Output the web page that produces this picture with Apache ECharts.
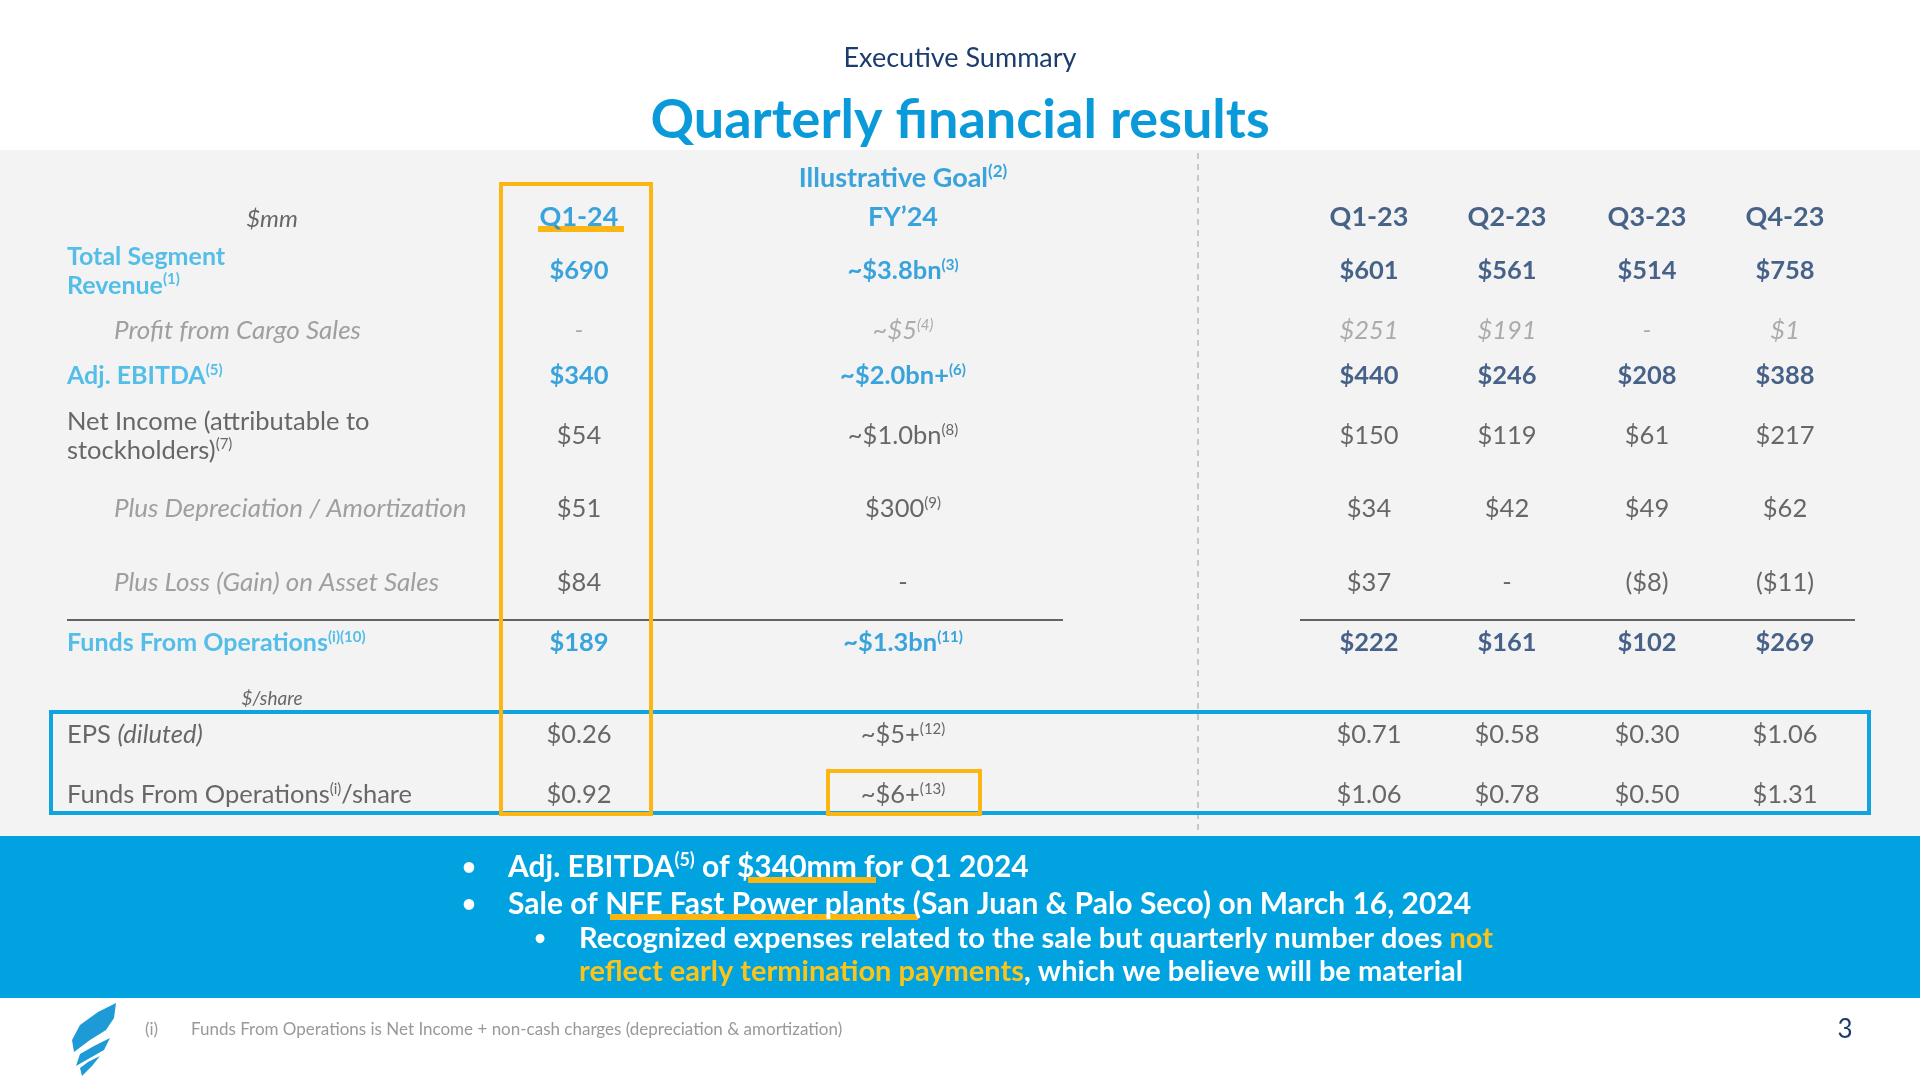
<!DOCTYPE html>
<html><head><meta charset="utf-8">
<script src="https://cdn.jsdelivr.net/npm/echarts@6/dist/echarts.min.js"></script>
<style>html,body{margin:0;padding:0;background:#fff}#c{width:1920px;height:1080px}</style>
</head><body><div id="c"></div>
<script>
// ---- data ----
const columns = ['Q1-24', 'FY\u201924', 'Q1-23', 'Q2-23', 'Q3-23', 'Q4-23'];
const rowLabels = ['Total Segment\nRevenue{s|(1)}', 'Profit from Cargo Sales', 'Adj. EBITDA{s|(5)}',
  'Net Income (attributable to\nstockholders){s|(7)}', 'Plus Depreciation / Amortization',
  'Plus Loss (Gain) on Asset Sales', 'Funds From Operations{s|(i)(10)}', 'EPS {i|(diluted)}',
  'Funds From Operations{s|(i)}/share'];
const rowKinds = ['key', 'cargo', 'key', 'norm', 'sub', 'sub', 'key', 'norm', 'norm'];
const q124 = ['$690', '-', '$340', '$54', '$51', '$84', '$189', '$0.26', '$0.92'];
const fy24 = ['~$3.8bn{s|(3)}', '~$5{s|(4)}', '~$2.0bn+{s|(6)}', '~$1.0bn{s|(8)}', '$300{s|(9)}', '-', '~$1.3bn{s|(11)}', '~$5+{s|(12)}', '~$6+{s|(13)}'];
const q123 = ['$601', '$251', '$440', '$150', '$34', '$37', '$222', '$0.71', '$1.06'];
const q223 = ['$561', '$191', '$246', '$119', '$42', '-', '$161', '$0.58', '$0.78'];
const q323 = ['$514', '-', '$208', '$61', '$49', '($8)', '$102', '$0.30', '$0.50'];
const q423 = ['$758', '$1', '$388', '$217', '$62', '($11)', '$269', '$1.06', '$1.31'];
// ---- layout ----
const colX = [579, 903, 1369, 1507, 1647, 1785];
const rowY = [271, 331, 376, 436, 509, 583, 643, 735, 795];
const headerY = 217;

const NAVY = '#1b3d6d', BLUE = '#0a8fd6', LBLUE = '#2cb0e6', GREY = '#8a8a8a', DARK = '#444';
const cols = [q124, fy24, q123, q223, q323, q423];
const data = [];
rowLabels.forEach((lab, r) => {
  const k = rowKinds[r];
  const st = k === 'key' ? {color: LBLUE, fontWeight: 'bold', fontSize: 25}
           : (k === 'sub' || k === 'cargo') ? {color: GREY, fontStyle: 'italic', fontSize: 26, fontWeight: 'normal'}
           : {color: DARK, fontSize: 25.5, fontWeight: 'normal', fontStyle: 'normal'};
  data.push({value: [(k === 'sub' || k === 'cargo') ? 114 : 67, rowY[r]], label: Object.assign({formatter: lab, align: 'left', lineHeight: 29,
    rich: {s: {fontSize: 15, padding: [0, 0, 12, 0], color: st.color, fontWeight: st.fontWeight, fontStyle: st.fontStyle || 'normal'},
           i: {fontStyle: 'italic', fontSize: 25.5, color: st.color}}}, st)});
  cols.forEach((col, c) => {
    const color = k === 'key' ? (c < 2 ? BLUE : NAVY) : k === 'cargo' ? '#999' : DARK;
    const s = {color, fontSize: 25.5, fontWeight: k === 'key' ? 'bold' : 'normal', fontStyle: k === 'cargo' ? 'italic' : 'normal'};
    data.push({value: [colX[c], rowY[r]], label: Object.assign({formatter: col[r], align: 'center',
      rich: {s: {fontSize: 15, padding: [0, 0, 12, 0], color, fontWeight: s.fontWeight, fontStyle: s.fontStyle}}}, s)});
  });
});
columns.forEach((h, c) => {
  data.push({value: [colX[c], headerY], label: {formatter: h, align: 'center', fontSize: 27, fontWeight: 'bold', color: c < 2 ? BLUE : NAVY}});
});
data.push({value: [903, 178], label: {formatter: 'Illustrative Goal{s|(2)}', align: 'center', fontSize: 27, fontWeight: 'bold', color: BLUE, rich: {s: {fontSize: 17, padding: [0, 0, 12, 0], color: BLUE, fontWeight: 'bold'}}}});
data.push({value: [272, 219], label: {formatter: '$mm', align: 'center', fontSize: 24, fontStyle: 'italic', color: DARK}});
data.push({value: [272, 699], label: {formatter: '$/share', align: 'center', fontSize: 19, fontStyle: 'italic', color: DARK}});

const chart = echarts.init(document.getElementById('c'));
const W = {fill: '#fff', fontSize: 30, fontWeight: 'bold', fontFamily: 'Lato'};
const Y = {fill: '#fcc419', fontSize: 29, fontWeight: 'bold', fontFamily: 'Lato'};
chart.setOption({
  textStyle: {fontFamily: 'Lato'},
  animation: false,
  grid: {left: 0, right: 0, top: 0, bottom: 0},
  xAxis: {type: 'value', min: 0, max: 1920, show: false},
  yAxis: {type: 'value', min: 0, max: 1080, inverse: true, show: false},
  graphic: [
    {type: 'rect', z: -10, shape: {x: 0, y: 150, width: 1920, height: 686}, style: {fill: '#f3f3f3'}},
    {type: 'rect', z: -10, shape: {x: 0, y: 836, width: 1920, height: 162}, style: {fill: '#00a3df'}},
    {type: 'line', shape: {x1: 1198, y1: 153, x2: 1198, y2: 833}, style: {stroke: '#bbb', lineWidth: 1.5, lineDash: [6, 5]}},
    {type: 'line', shape: {x1: 67, y1: 620, x2: 1063, y2: 620}, style: {stroke: '#333', lineWidth: 1.5}},
    {type: 'line', shape: {x1: 1300, y1: 620, x2: 1855, y2: 620}, style: {stroke: '#333', lineWidth: 1.5}},
    {type: 'rect', shape: {x: 51, y: 712, width: 1818, height: 101}, style: {fill: null, stroke: '#10a4df', lineWidth: 4}},
    {type: 'rect', shape: {x: 501, y: 184, width: 150, height: 630}, style: {fill: null, stroke: '#fbb613', lineWidth: 4}},
    {type: 'rect', shape: {x: 828, y: 771, width: 152, height: 43}, style: {fill: null, stroke: '#fbb613', lineWidth: 4}},
    {type: 'rect', shape: {x: 538, y: 226, width: 86, height: 6}, style: {fill: '#fbb613'}},
    {type: 'text', x: 960, y: 58, style: {text: 'Executive Summary', fill: NAVY, fontSize: 27, fontFamily: 'Lato', align: 'center', verticalAlign: 'middle'}},
    {type: 'text', x: 960, y: 121, style: {text: 'Quarterly financial results', fill: '#0a9ad9', fontSize: 54, fontWeight: 'bold', fontFamily: 'Lato', align: 'center', verticalAlign: 'middle'}},
    {type: 'rect', shape: {x: 748, y: 877, width: 128, height: 6}, style: {fill: '#fbb613'}},
    {type: 'rect', shape: {x: 610, y: 914, width: 308, height: 6}, style: {fill: '#fbb613'}},
    {type: 'text', x: 469, y: 867, style: Object.assign({text: '\u2022', align: 'center', verticalAlign: 'middle'}, W, {fontSize: 24})},
    {type: 'text', x: 469, y: 904, style: Object.assign({text: '\u2022', align: 'center', verticalAlign: 'middle'}, W, {fontSize: 24})},
    {type: 'text', x: 540, y: 939, style: Object.assign({text: '\u2022', align: 'center', verticalAlign: 'middle'}, W, {fontSize: 20})},
    {type: 'text', x: 508, y: 867, style: Object.assign({text: 'Adj. EBITDA{s|(5)} of $340mm for Q1 2024', verticalAlign: 'middle', rich: {s: {fill: '#fff', fontSize: 18, padding: [0, 0, 14, 0], fontWeight: 'bold', fontFamily: 'Lato'}}}, W)},
    {type: 'text', x: 508, y: 904, style: Object.assign({text: 'Sale of NFE Fast Power plants (San Juan & Palo Seco) on March 16, 2024', verticalAlign: 'middle'}, W)},
    {type: 'text', x: 579, y: 939, style: Object.assign({text: 'Recognized expenses related to the sale but quarterly number does {y|not}', verticalAlign: 'middle', rich: {y: Y}}, W, {fontSize: 29})},
    {type: 'text', x: 579, y: 972, style: Object.assign({text: '{y|reflect early termination payments}, which we believe will be material', verticalAlign: 'middle', rich: {y: Y}}, W, {fontSize: 29})},
    {type: 'text', x: 145, y: 1030, style: {text: '(i)', fill: '#999', fontSize: 17, fontFamily: 'Lato', verticalAlign: 'middle'}},
    {type: 'text', x: 191, y: 1030, style: {text: 'Funds From Operations is Net Income + non-cash charges (depreciation & amortization)', fill: '#999', fontSize: 17, fontFamily: 'Lato', verticalAlign: 'middle'}},
    {type: 'text', x: 1845, y: 1030, style: {text: '3', fill: NAVY, fontSize: 26, fontFamily: 'Lato', align: 'center', verticalAlign: 'middle'}},
    {type: 'polygon', shape: {points: [[116, 1003], [98, 1012], [80, 1025], [72, 1040], [74, 1052], [90, 1040], [106, 1030], [114, 1018]]}, style: {fill: '#1e9ad6'}},
    {type: 'polygon', shape: {points: [[110, 1038], [94, 1046], [80, 1054], [76, 1066], [90, 1058], [104, 1050]]}, style: {fill: '#1e9ad6'}},
    {type: 'polygon', shape: {points: [[100, 1056], [88, 1062], [80, 1068], [82, 1076], [92, 1066]]}, style: {fill: '#1e9ad6'}}
  ],
  series: [{type: 'scatter', symbolSize: 0, data, label: {show: true, position: 'inside', verticalAlign: 'middle', fontFamily: 'Lato'}, emphasis: {disabled: true}, silent: true}]
});
</script></body></html>
